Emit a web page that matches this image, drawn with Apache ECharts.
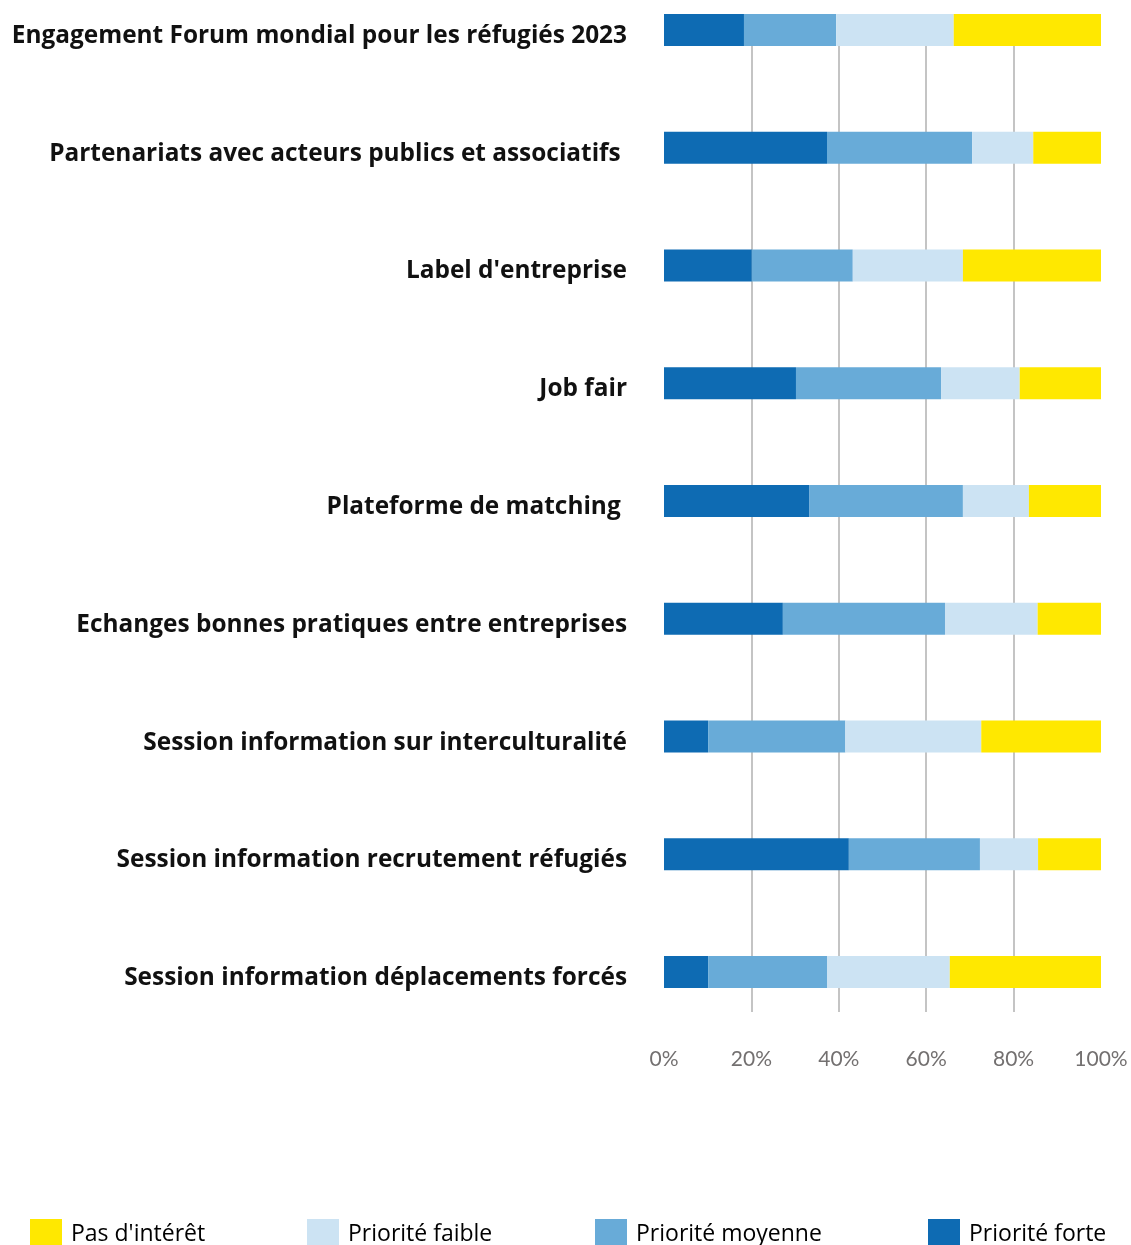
<!DOCTYPE html>
<html>
<head>
<meta charset="utf-8">
<script src="https://cdn.jsdelivr.net/npm/echarts@6/dist/echarts.min.js"></script>
<style>
html,body{margin:0;padding:0;background:#fff;}
#chart{width:1131px;height:1245px;}
</style>
</head>
<body>
<div id="chart"></div>
<script>
const categories = [
  "Engagement Forum mondial pour les réfugiés 2023",
  "Partenariats avec acteurs publics et associatifs ",
  "Label d'entreprise",
  "Job fair",
  "Plateforme de matching ",
  "Echanges bonnes pratiques entre entreprises",
  "Session information sur interculturalité",
  "Session information recrutement réfugiés",
  "Session information déplacements forcés"
];
const prioriteForte   = [18.3, 37.3, 20.1, 30.2, 33.2, 27.2, 10.1, 42.3, 10.1];
const prioriteMoyenne = [21.1, 33.2, 23.1, 33.2, 35.2, 37.1, 31.4, 30.0, 27.2];
const prioriteFaible  = [26.9, 14.0, 25.2, 18.0, 15.1, 21.2, 31.1, 13.3, 28.1];
const pasInteret      = [33.7, 15.5, 31.6, 18.6, 16.5, 14.5, 27.4, 14.4, 34.6];
const tickValues = [0, 20, 40, 60, 80, 100];

const colors = {
  forte: '#0E6BB3',
  moyenne: '#68ABD8',
  faible: '#CCE3F3',
  pas: '#FFE800'
};

const chart = echarts.init(document.getElementById('chart'), null, {renderer: 'canvas'});

function legendAt(name, left) {
  return {
    left: left, top: 1216, padding: 0,
    itemWidth: 32, itemHeight: 30, itemGap: 0,
    icon: 'rect',
    selectedMode: false,
    data: [name],
    textStyle: {fontFamily: 'Open Sans', fontSize: 23, color: '#000', padding: [0, 0, 0, 4], lineHeight: 36, verticalAlign: 'middle'}
  };
}

const option = {
  animation: false,
  backgroundColor: '#fff',
  grid: [
    {left: 664, width: 437, top: -29, height: 1060, containLabel: false, outerBoundsMode: 'none'},
    {left: 664, width: 437, top: 14, height: 998, containLabel: false, outerBoundsMode: 'none'}
  ],
  legend: [
    legendAt('Pas d\'intérêt', 30),
    legendAt('Priorité faible', 307),
    legendAt('Priorité moyenne', 595),
    legendAt('Priorité forte', 928)
  ],
  xAxis: [
    {gridIndex: 0, type: 'value', min: 0, max: 100, interval: 20,
     axisLine: {show: false}, axisTick: {show: false}, axisLabel: {show: false}, splitLine: {show: false}},
    {gridIndex: 1, type: 'value', min: tickValues[0], max: tickValues[tickValues.length-1], interval: 20,
     axisLine: {show: false}, axisTick: {show: false},
     axisLabel: {formatter: '{value}%', fontFamily: 'Lato', fontSize: 21, color: '#737070', margin: 37},
     splitLine: {show: true, lineStyle: {color: ['rgba(0,0,0,0)', '#B0B0B0', '#B0B0B0', '#B0B0B0', '#B0B0B0', 'rgba(0,0,0,0)'], width: 1.5}}}
  ],
  yAxis: [
    {gridIndex: 0, type: 'category', inverse: true, data: categories,
     axisLine: {show: false}, axisTick: {show: false},
     axisLabel: {
       margin: 37,
       formatter: function (v) { return '{c|' + v + '}'; },
       rich: {c: {fontFamily: 'Open Sans', fontWeight: 'bold', fontSize: 24.4, color: '#111', padding: [12, 0, 0, 0]}}
     }},
    {gridIndex: 1, type: 'value', show: false, min: 0, max: 1}
  ],
  series: [
    {name: 'Priorité forte', type: 'bar', stack: 'all', xAxisIndex: 0, yAxisIndex: 0, barWidth: 32,
     itemStyle: {color: colors.forte}, data: prioriteForte, z: 5},
    {name: 'Priorité moyenne', type: 'bar', stack: 'all', xAxisIndex: 0, yAxisIndex: 0, barWidth: 32,
     itemStyle: {color: colors.moyenne}, data: prioriteMoyenne, z: 5},
    {name: 'Priorité faible', type: 'bar', stack: 'all', xAxisIndex: 0, yAxisIndex: 0, barWidth: 32,
     itemStyle: {color: colors.faible}, data: prioriteFaible, z: 5},
    {name: 'Pas d\'intérêt', type: 'bar', stack: 'all', xAxisIndex: 0, yAxisIndex: 0, barWidth: 32,
     itemStyle: {color: colors.pas}, data: pasInteret, z: 5}
  ]
};
chart.setOption(option);
</script>
</body>
</html>
